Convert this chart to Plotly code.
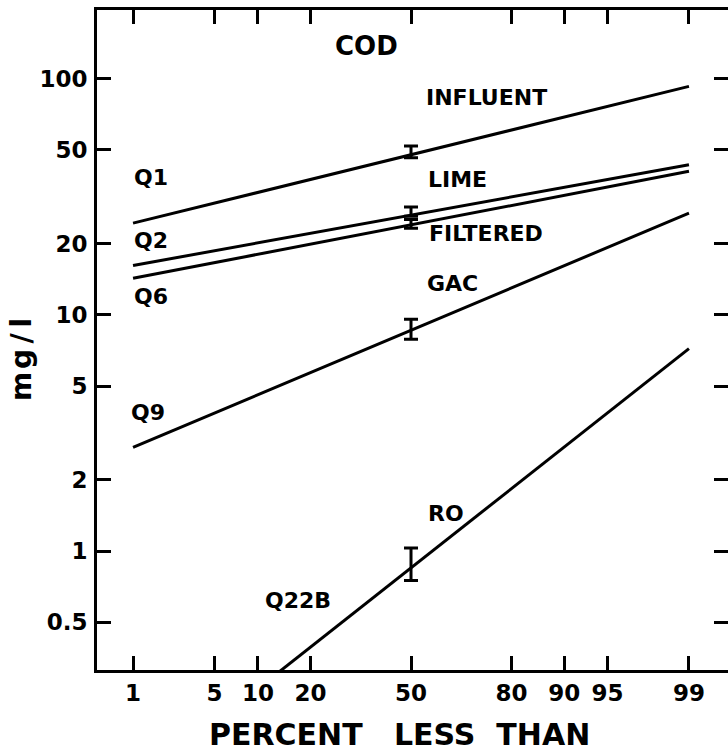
import plotly.graph_objects as go
from statistics import NormalDist

# ---------------- data ----------------
percent_ticks = [1, 5, 10, 20, 50, 80, 90, 95, 99]
percent_tick_labels = ["1", "5", "10", "20", "50", "80", "90", "95", "99"]
y_ticks = [0.5, 1, 2, 5, 10, 20, 50, 100]
y_tick_labels = ["0.5", "1", "2", "5", "10", "20", "50", "100"]

series_names = ["INFLUENT", "LIME", "FILTERED", "GAC", "RO"]
stage_codes = ["Q1", "Q2", "Q6", "Q9", "Q22B"]

line_percent = [1, 99]
influent_line = [24.5, 93.0]
lime_line = [16.2, 43.3]
filtered_line = [14.3, 40.6]
gac_line = [2.75, 27.0]
ro_line = [0.10, 7.2]

median_percent = 50
median_values = [48.0, 27.2, 24.3, 8.6, 0.86]
median_high = [52.0, 28.7, 25.4, 9.6, 1.03]
median_low = [46.3, 26.2, 23.3, 7.9, 0.75]

# ---------------- helpers ----------------
nd = NormalDist()


def z(p):
    return nd.inv_cdf(p / 100.0)


W, H = 728, 754
L, R, T, B = 97, 0, 10, 84
PW, PH = W - L - R, H - T - B


def px(x, y):
    return (x - L) / PW, (H - B - y) / PH


FONT = "DejaVu Sans"
fig = go.Figure()

lines = [influent_line, lime_line, filtered_line, gac_line, ro_line]
for name, vals in zip(series_names, lines):
    fig.add_trace(go.Scatter(
        x=[z(p) for p in line_percent], y=vals, mode="lines",
        line=dict(color="black", width=3), name=name, showlegend=False,
        hoverinfo="skip"))

for i, name in enumerate(series_names):
    m = median_values[i]
    fig.add_trace(go.Scatter(
        x=[z(median_percent)], y=[m], mode="markers",
        marker=dict(size=1, color="black"),
        error_y=dict(type="data", symmetric=False,
                     array=[median_high[i] - m], arrayminus=[m - median_low[i]],
                     width=7, thickness=3, color="black"),
        showlegend=False, hoverinfo="skip"))

# invisible copy on the right-hand axis so its inside ticks are drawn
fig.add_trace(go.Scatter(
    x=[z(p) for p in line_percent], y=influent_line, mode="lines",
    line=dict(color="rgba(0,0,0,0)", width=0), yaxis="y2",
    showlegend=False, hoverinfo="skip"))

# ---------------- text labels ----------------
ann = []


def label(text, x, y, size=23, xanchor="left", angle=0):
    xp, yp = px(x, y)
    ann.append(dict(text=text, x=xp, y=yp, xref="paper", yref="paper",
                    xanchor=xanchor, yanchor="middle", showarrow=False,
                    textangle=angle,
                    font=dict(family=FONT, size=size, color="black", weight="bold")))


label("COD", 366, 46, size=26, xanchor="center")
label(series_names[0], 424, 97, size=22)
label(series_names[1], 426, 179, size=22)
label(series_names[2], 427, 233, size=22)
label(series_names[3], 425, 283, size=22)
label(series_names[4], 426, 513, size=22)
label(stage_codes[0], 132, 177, size=22)
label(stage_codes[1], 132, 240, size=22)
label(stage_codes[2], 132, 296, size=22)
label(stage_codes[3], 129, 412, size=22)
label(stage_codes[4], 263, 600, size=22)
label("m\u200ag\u2009/\u2009l", 21, 360, size=28, xanchor="center", angle=-90)
label("PERCENT\u00a0\u00a0\u00a0LESS\u00a0\u00a0THAN", 399, 734, size=30, xanchor="center")

yr = [-0.504, 2.292]
tickfont = dict(family=FONT, size=23, color="black", weight="bold")
fig.update_layout(
    width=W, height=H,
    margin=dict(l=L, r=R, t=T, b=B),
    paper_bgcolor="white", plot_bgcolor="white",
    showlegend=False,
    annotations=ann,
    xaxis=dict(
        type="linear", range=[-2.628, 2.653],
        tickvals=[z(p) for p in percent_ticks], ticktext=percent_tick_labels,
        ticks="inside", ticklen=14, tickwidth=3, tickcolor="black",
        showline=True, linewidth=3, linecolor="black", mirror="ticks",
        showgrid=False, zeroline=False, ticklabelstandoff=0,
        tickfont=tickfont,
    ),
    yaxis=dict(
        type="log", range=yr,
        tickvals=y_ticks, ticktext=y_tick_labels,
        ticks="inside", ticklen=14, tickwidth=3, tickcolor="black",
        showline=True, linewidth=3, linecolor="black", mirror=False,
        showgrid=False, zeroline=False, ticklabelstandoff=2,
        tickfont=tickfont,
    ),
    yaxis2=dict(
        type="log", range=yr, overlaying="y", side="right",
        tickvals=y_ticks, showticklabels=False,
        ticks="inside", ticklen=14, tickwidth=3, tickcolor="black",
        showline=False, showgrid=False, zeroline=False,
    ),
)

fig.write_html("out.html")
